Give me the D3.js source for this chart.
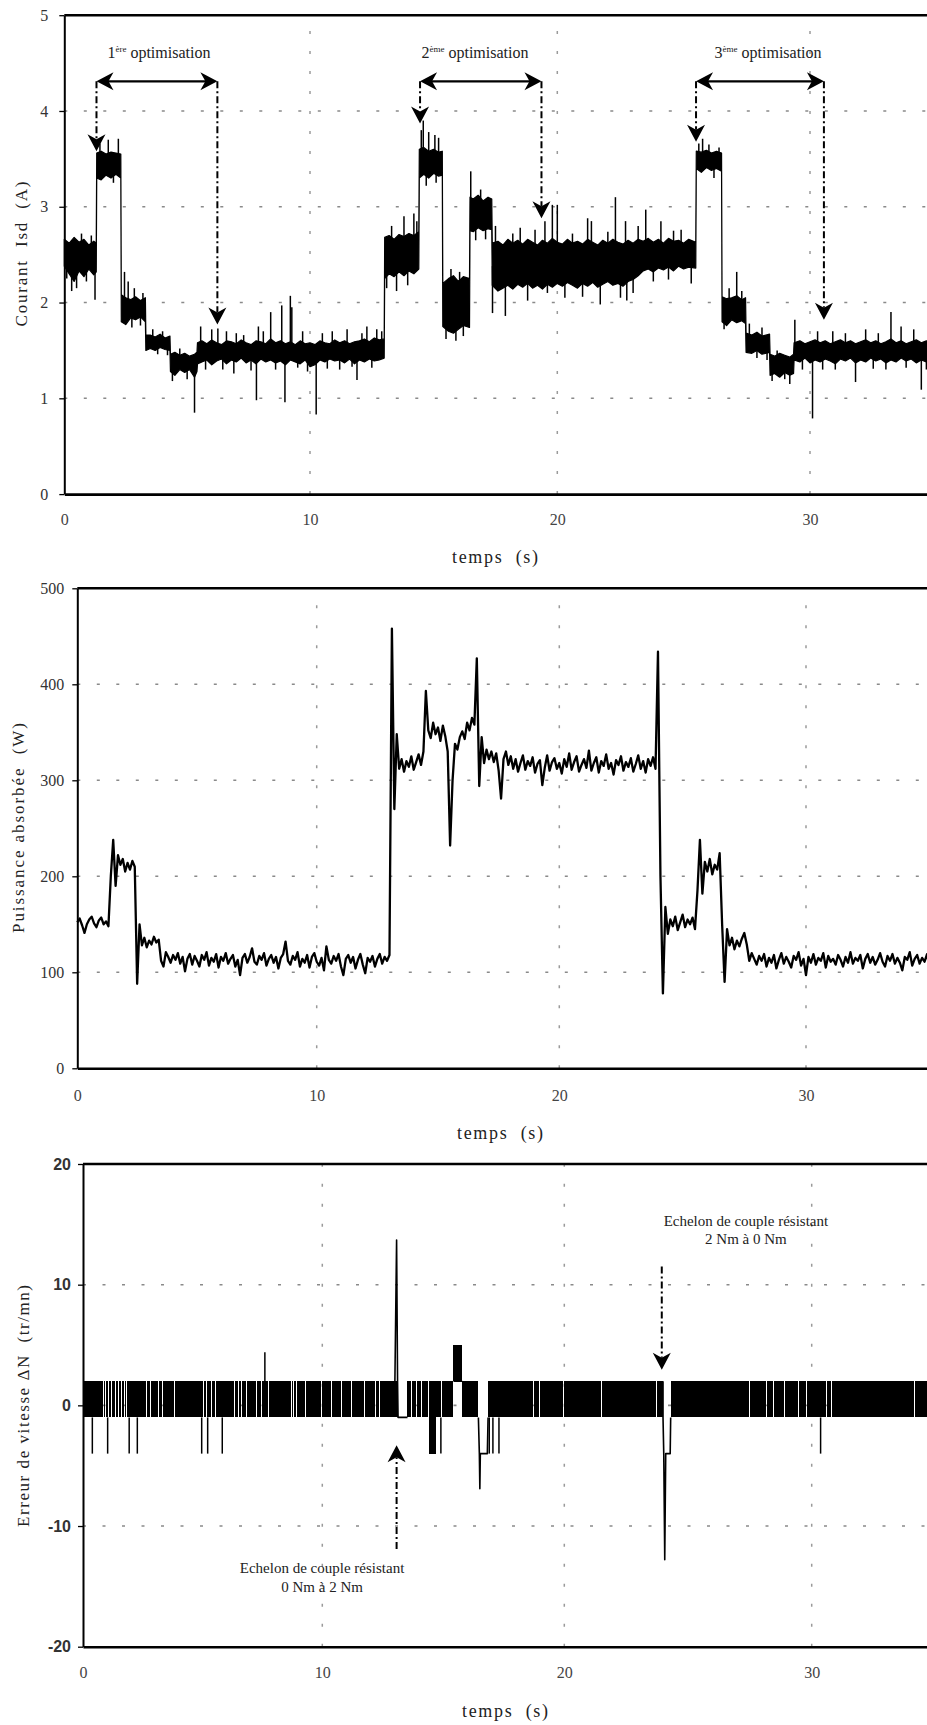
<!DOCTYPE html>
<html><head><meta charset="utf-8">
<script src="https://cdn.jsdelivr.net/npm/d3@7"></script>
<style>
html,body{margin:0;padding:0;background:#fff;overflow:hidden}
svg{display:block}
.serif{font-family:"Liberation Serif","Times New Roman",Times,serif}
.sans{font-family:"Liberation Sans",Arial,Helvetica,sans-serif}
</style></head><body>
<svg id="chart" width="927" height="1725"></svg>
<script>
// ---------------- DATA ----------------
const timeTicks = [0, 10, 20, 30];
const isdTicks = [0, 1, 2, 3, 4, 5];
const powerTicks = [0, 100, 200, 300, 400, 500];
const speedTicks = [-20, -10, 0, 10, 20];

// Courant Isd : envelope of the noisy trace [t (s), low (A), high (A)]
const isdEnvelope = [
 [0.0,2.38,2.66],[0.2,2.30,2.62],[0.4,2.22,2.68],[0.6,2.33,2.63],[0.8,2.27,2.66],[1.0,2.35,2.60],[1.2,2.29,2.64],[1.3,2.32,2.62],
 [1.32,3.30,3.56],[1.5,3.28,3.58],[1.7,3.33,3.55],[1.9,3.30,3.57],[2.1,3.34,3.56],[2.3,3.30,3.55],
 [2.32,1.80,2.08],[2.5,1.77,2.05],[2.7,1.84,2.03],[2.9,1.82,2.06],[3.1,1.85,2.02],[3.3,1.80,2.05],
 [3.32,1.50,1.66],[3.5,1.52,1.66],[3.7,1.50,1.64],[3.9,1.53,1.67],[4.1,1.51,1.63],[4.3,1.50,1.65],
 [4.32,1.28,1.46],[4.5,1.24,1.48],[4.7,1.30,1.45],[4.9,1.27,1.47],[5.1,1.30,1.44],[5.3,1.22,1.46],[5.4,1.28,1.48],
 [5.42,1.36,1.58],[5.6,1.38,1.60],[5.8,1.40,1.57],[6.0,1.35,1.61],[6.2,1.39,1.58],[6.4,1.41,1.56],[6.6,1.36,1.60],[6.8,1.40,1.59],
 [7.0,1.38,1.57],[7.2,1.42,1.61],[7.4,1.37,1.58],[7.6,1.40,1.56],[7.8,1.36,1.60],[8.0,1.41,1.59],[8.2,1.38,1.57],[8.4,1.40,1.62],
 [8.6,1.37,1.58],[8.8,1.39,1.60],[9.0,1.35,1.57],[9.2,1.40,1.59],[9.4,1.38,1.56],[9.6,1.36,1.60],[9.8,1.40,1.57],[10.0,1.33,1.58],
 [10.2,1.35,1.56],[10.4,1.40,1.60],[10.6,1.38,1.58],[10.8,1.41,1.57],[11.0,1.39,1.61],[11.2,1.40,1.58],[11.4,1.37,1.60],[11.6,1.41,1.57],
 [11.8,1.36,1.59],[12.0,1.40,1.60],[12.2,1.38,1.62],[12.4,1.41,1.59],[12.6,1.39,1.63],[12.8,1.40,1.61],[13.0,1.42,1.62],
 [13.02,2.25,2.68],[13.2,2.30,2.70],[13.4,2.27,2.66],[13.6,2.32,2.71],[13.8,2.28,2.69],[14.0,2.33,2.72],[14.2,2.30,2.70],[14.4,2.35,2.74],
 [14.42,3.30,3.60],[14.6,3.34,3.62],[14.8,3.30,3.58],[15.0,3.35,3.60],[15.2,3.32,3.57],[15.35,3.33,3.58],
 [15.37,1.75,2.20],[15.6,1.70,2.25],[15.8,1.68,2.28],[16.0,1.72,2.22],[16.2,1.76,2.27],[16.45,1.74,2.25],
 [16.47,2.75,3.10],[16.6,2.74,3.08],[16.8,2.78,3.12],[17.0,2.75,3.06],[17.2,2.77,3.10],[17.35,2.76,3.08],
 [17.37,2.18,2.62],[17.6,2.12,2.64],[17.8,2.15,2.60],[18.0,2.18,2.66],[18.2,2.14,2.62],[18.4,2.19,2.65],[18.6,2.16,2.61],[18.8,2.20,2.66],
 [19.0,2.15,2.63],[19.2,2.18,2.60],[19.4,2.14,2.65],[19.6,2.19,2.62],[19.8,2.16,2.67],[20.0,2.20,2.63],[20.2,2.17,2.61],[20.4,2.21,2.66],
 [20.6,2.18,2.62],[20.8,2.15,2.64],[21.0,2.20,2.61],[21.2,2.17,2.66],[21.4,2.21,2.63],[21.6,2.16,2.60],[21.8,2.19,2.65],[22.0,2.22,2.62],
 [22.2,2.18,2.66],[22.4,2.20,2.63],[22.6,2.17,2.61],[22.8,2.22,2.65],[23.0,2.24,2.62],[23.2,2.28,2.66],[23.4,2.33,2.64],[23.6,2.35,2.67],
 [23.8,2.32,2.63],[24.0,2.36,2.66],[24.2,2.34,2.62],[24.4,2.37,2.67],[24.6,2.33,2.64],[24.8,2.38,2.65],[25.0,2.35,2.62],[25.2,2.37,2.66],[25.48,2.36,2.63],
 [25.5,3.40,3.58],[25.7,3.36,3.57],[25.9,3.41,3.59],[26.1,3.38,3.56],[26.3,3.40,3.58],[26.5,3.37,3.56],
 [26.52,1.80,2.06],[26.7,1.76,2.04],[26.9,1.82,2.05],[27.1,1.79,2.07],[27.3,1.81,2.03],[27.45,1.78,2.05],
 [27.47,1.48,1.68],[27.7,1.47,1.66],[27.9,1.50,1.69],[28.1,1.46,1.65],[28.4,1.48,1.67],
 [28.42,1.24,1.46],[28.6,1.26,1.44],[28.8,1.22,1.47],[29.0,1.27,1.45],[29.2,1.24,1.43],[29.35,1.26,1.46],
 [29.37,1.40,1.58],[29.6,1.38,1.60],[29.8,1.42,1.57],[30.0,1.37,1.59],[30.2,1.40,1.61],[30.4,1.38,1.58],[30.6,1.41,1.60],[30.8,1.39,1.57],
 [31.0,1.36,1.59],[31.2,1.41,1.61],[31.4,1.39,1.58],[31.6,1.42,1.60],[31.8,1.37,1.57],[32.0,1.40,1.59],[32.2,1.38,1.61],[32.4,1.42,1.58],
 [32.6,1.39,1.60],[32.8,1.41,1.57],[33.0,1.37,1.59],[33.2,1.40,1.62],[33.4,1.38,1.58],[33.6,1.42,1.60],[33.8,1.39,1.57],[34.0,1.41,1.59],
 [34.2,1.37,1.61],[34.4,1.40,1.58],[34.6,1.38,1.60],[34.8,1.42,1.57],[35.0,1.39,1.59],[35.2,1.41,1.60],[35.5,1.38,1.58]
];
// Courant Isd : isolated spikes [t (s), value (A)]
const isdSpikes = [
 [0.1,2.25],[0.3,2.12],[0.5,2.15],[0.7,2.72],[0.9,2.22],[1.1,2.70],[1.25,2.03],
 [1.45,3.66],[1.79,3.70],[2.0,3.25],[2.2,3.71],
 [2.45,2.32],[2.6,2.22],[2.75,1.74],[2.85,2.15],[3.1,1.76],[3.2,2.10],
 [3.6,1.72],[3.8,1.46],[4.0,1.70],[4.2,1.45],
 [4.4,1.18],[4.7,1.52],[5.0,1.20],[5.3,0.85],
 [5.55,1.75],[5.75,1.30],[6.0,1.72],[6.25,1.73],[6.45,1.30],[6.6,1.70],[6.9,1.26],[7.0,1.68],[7.3,1.66],[7.6,1.29],[7.82,0.98],[7.9,1.75],
 [8.1,1.70],[8.4,1.90],[8.6,1.30],[8.85,1.97],[8.98,0.96],[9.2,2.07],[9.26,1.95],[9.5,1.32],[9.7,1.70],[9.9,1.28],[10.25,0.83],
 [10.5,1.68],[10.7,1.31],[10.9,1.70],[11.2,1.30],[11.5,1.72],[11.7,1.33],[11.9,1.19],[12.1,1.68],[12.3,1.75],[12.5,1.32],[12.7,1.72],[12.9,1.70],
 [13.1,2.15],[13.3,2.80],[13.5,2.12],[13.8,2.90],[13.95,2.18],[14.2,2.93],[14.32,2.85],
 [14.5,3.80],[14.58,3.90],[14.7,3.22],[14.8,3.78],[15.05,3.75],[15.1,3.25],[15.2,3.72],
 [15.5,1.62],[15.7,2.35],[15.9,1.60],[16.05,2.32],[16.2,1.65],
 [16.5,3.37],[16.7,2.65],[16.9,3.18],[17.1,2.66],
 [17.38,1.89],[17.5,2.80],[17.9,1.86],[18.2,2.72],[18.5,2.78],[18.8,2.02],[19.1,2.76],[19.5,2.85],[19.6,2.10],[19.8,3.02],[20.0,3.02],
 [20.3,2.05],[20.6,2.72],[21.0,2.06],[21.2,2.88],[21.35,2.85],[21.7,1.98],[22.0,2.74],[22.3,3.10],[22.5,2.05],[22.7,2.85],[22.75,2.02],
 [23.0,2.10],[23.2,2.80],[23.5,2.97],[23.8,2.22],[24.1,2.85],[24.4,2.24],[24.6,2.75],[24.9,2.76],[25.3,2.20],
 [25.6,3.66],[25.75,3.71],[26.0,3.65],[26.2,3.30],[26.4,3.62],
 [26.6,1.72],[26.8,2.15],[27.1,2.32],[27.3,2.12],
 [27.6,1.78],[27.9,1.42],[28.1,1.74],[28.3,1.40],
 [28.5,1.18],[28.7,1.50],[29.0,1.20],[29.2,1.15],
 [29.4,1.82],[29.7,1.30],[30.1,0.79],[30.3,1.70],[30.5,1.30],[30.9,1.70],[31.0,1.30],[31.4,1.68],[31.8,1.17],[32.2,1.72],[32.5,1.31],
 [32.7,1.68],[33.0,1.30],[33.2,1.90],[33.6,1.75],[33.8,1.32],[34.1,1.72],[34.4,1.09],[34.6,1.30],[34.8,1.77],[35.1,1.70]
];

// Puissance absorbée : sampled every powerStep seconds (W)
const powerStep = 0.1;
const powerValues = [
 // 0.0 - 1.3
 152,156,149,141,150,155,158,151,147,154,157,150,153,148,
 // 1.4 - 2.4
 200,238,190,222,212,218,205,214,207,216,210,
 // 2.5 - 3.4
 88,150,128,136,126,133,129,137,131,134,
 // 3.5 - 3.8
 112,106,121,116,
 // 3.9 - 13.0
 110,118,113,120,109,116,101,114,119,108,117,112,106,118,113,121,107,115,111,119,105,116,112,120,109,114,118,106,113,97,
 115,119,110,116,125,111,108,117,113,120,107,114,118,110,116,104,115,119,132,112,108,117,113,121,106,114,110,118,105,116,
 120,111,107,115,102,127,113,109,117,112,119,106,97,114,118,110,116,104,113,119,108,99,115,111,117,106,114,119,109,116,112,118,
 // 13.1 - 18.0
 458,270,348,312,322,309,320,314,325,311,319,327,316,330,393,352,344,360,348,355,341,357,346,330,232,300,338,332,345,351,
 343,360,352,365,358,427,294,345,318,332,322,330,319,328,310,281,322,330,316,325,
 // 18.1 - 23.9
 312,322,309,318,326,311,320,315,324,308,317,321,295,313,326,310,319,323,312,318,307,322,314,328,311,319,325,309,316,322,
 313,331,310,318,324,308,320,315,327,312,318,306,321,316,325,310,319,314,323,309,317,326,312,320,308,322,315,324,312,
 // 24.0 - 27.7
 434,200,78,168,140,155,148,158,144,152,160,147,155,150,157,145,185,238,182,215,205,218,202,212,207,224,150,90,145,128,
 136,124,133,127,135,141,129,112,
 // 27.8 - 35.5
 120,114,108,117,112,119,106,115,110,118,104,113,120,109,116,111,105,117,113,121,107,114,97,116,110,119,108,115,112,120,
 105,117,111,114,108,118,113,106,116,110,121,109,115,112,118,104,114,119,110,116,108,113,120,111,106,117,112,119,109,115,
 110,102,116,113,121,107,114,118,109,115,111,119,106,114,117,110,116,112
];

// Erreur de vitesse : the trace chatters between -1 and 2 tr/mn except in these intervals [t0, t1]
const speedBandLow = -1, speedBandHigh = 2, speedEnd = 35.6;
const speedGaps = [
 [0.83,0.87],[0.93,0.97],[1.04,1.08],[1.18,1.22],[1.32,1.36],[1.46,1.50],[1.60,1.64],[1.71,1.75],[1.81,1.85],[2.64,2.68],
 [2.82,2.86],[3.13,3.17],[3.29,3.33],[3.82,3.86],[4.87,4.91],[5.01,5.05],[5.15,5.19],[5.36,5.40],[5.50,5.54],[6.33,6.37],
 [6.47,6.51],[6.61,6.65],[6.82,6.86],[7.24,7.28],[7.45,7.49],[7.72,7.76],[8.70,8.74],[8.77,8.81],[8.91,8.95],[9.26,9.30],
 [9.95,9.99],[10.37,10.41],[10.78,10.82],[11.19,11.23],[11.74,11.78],[12.16,12.20],[12.36,12.40],[13.12,13.52],[13.67,13.71],
 [13.88,13.92],[14.08,14.12],[14.36,14.40],[14.91,14.95],[15.42,15.78],[16.45,16.85],[17.53,17.57],[18.70,18.74],[18.95,18.99],
 [19.94,19.98],[21.49,21.53],[23.71,23.75],[23.99,24.30],[27.48,27.52],[28.16,28.20],[28.43,28.47],[28.90,28.94],[29.44,29.48],
 [29.78,29.82],[30.59,30.63],[30.79,30.83],[34.15,34.19]
];
// chatter blocks outside the main band [t0, t1, low, high]
const speedBlocks = [[14.42,14.68,-4,-1],[15.42,15.78,2,5]];
// thin spikes [t, from, to]
const speedSpikes = [
 [0.39,-1,-4],[1.03,-1,-4],[1.93,-1,-4],[2.27,-1,-4],[4.96,-1,-4],[5.21,-1,-4],[5.82,-1,-4],[7.6,2,4.4],
 [14.9,-1,-4],[16.9,-1,-4],[17.05,-1,-4],[17.3,-1,-4],[30.36,-1,-4]
];
// transients drawn as polylines [t, value]
const speedTransients = [
 [[13.0,2],[13.07,13.7],[13.11,2],[13.13,-1],[13.52,-1]],
 [[15.42,2],[15.78,2]],
 [[16.45,-1],[16.49,-4],[16.51,-6.9],[16.53,-4],[16.82,-4],[16.85,-1]],
 [[23.99,2],[23.99,-1],[24.02,-4],[24.06,-12.8],[24.10,-4],[24.28,-4],[24.30,-1]]
];

// annotations
const optimNumbers = ["1", "2", "3"];
const optimSuffix = ["ère", "ème", "ème"];
const optimStart = [1.31, 14.45, 25.49];
const optimEnd = [6.23, 19.36, 30.55];
const optimStartTip = [3.58, 3.87, 3.68];
const optimEndTip = [1.77, 2.88, 1.82];
const optimLabelT = [3.85, 16.67, 28.34];
const optimArrowLevel = 4.31, optimLabelLevel = 4.55;

const echelonT = [13.07, 23.94];
const echelonFrom = [-11.9, 11.5];
const echelonTip = [-3.3, 2.96];
const echelonLabelT = [9.99, 27.34];
const echelonLabelV = [[-13.9, -15.5], [14.85, 13.35]];
const echelonLines = [["Echelon de couple résistant", "0 Nm à 2 Nm"], ["Echelon de couple résistant", "2 Nm à 0 Nm"]];

// ---------------- LAYOUT ----------------
const svg = d3.select('#chart');

const layout = {
  isd:   {xr:[64.3,310,557.3,810,1063], yd:[0,5],     yr:[494.1,15.2],  yTicks:isdTicks,  yPad:11, yClass:'serif', yWeight:'normal', ySize:16, xPad:20,
          title:"Courant  Isd  (A)", titleX:21, titleY:254, titleLen:145, xTitleX:495, xTitleY:557, hGrid:[1,2,3,4]},
  power: {xr:[77.3,316.7,559.3,806,1053], yd:[0,500], yr:[1068.3,588.3], yTicks:powerTicks, yPad:8, yClass:'serif', yWeight:'normal', ySize:16, xPad:21,
          title:"Puissance absorbée  (W)", titleX:18, titleY:828, titleLen:210, xTitleX:500, xTitleY:1133, hGrid:[100,200,300,400]},
  speed: {xr:[83,322.3,564.3,811.7,1059], yd:[-20,20], yr:[1646.7,1164.0], yTicks:speedTicks, yPad:7, yClass:'sans', yWeight:'bold', ySize:16, xPad:20,
          title:"Erreur de vitesse ΔN  (tr/mn)", titleX:23, titleY:1406, titleLen:242, xTitleX:505, xTitleY:1711, hGrid:[-10,0,10]}
};

function makeScales(c){
  const x = d3.scaleLinear().domain([0,10,20,30,40]).range(c.xr);
  const y = d3.scaleLinear().domain(c.yd).range(c.yr);
  return {x, y};
}

function drawGrid(c, s){
  const g = svg.append('g');
  g.selectAll('line.h').data(c.hGrid).join('line')
    .attr('x1', s.x(0)).attr('x2', s.x(40)).attr('y1', d=>s.y(d)).attr('y2', d=>s.y(d))
    .attr('stroke', '#8a8a8a').attr('stroke-width', 1.6).attr('stroke-dasharray', '3,16.5');
  g.selectAll('line.v').data(timeTicks.filter(d=>d>0)).join('line')
    .attr('x1', d=>s.x(d)).attr('x2', d=>s.x(d)).attr('y1', s.y(c.yd[0])).attr('y2', s.y(c.yd[1]))
    .attr('stroke', '#9a9a9a').attr('stroke-width', 1.5).attr('stroke-dasharray', '3,17');
}

function drawAxes(c, s){
  const gl = svg.append('g').attr('transform', `translate(${s.x(0)},0)`)
    .call(d3.axisLeft(s.y).tickValues(c.yTicks).tickSize(5).tickSizeOuter(0).tickPadding(c.yPad).tickFormat(d=>String(d)));
  gl.attr('font-family', null);
  gl.select('.domain').attr('stroke', '#000').attr('stroke-width', 2);
  gl.selectAll('.tick line').attr('stroke', '#000').attr('stroke-width', 1.3);
  gl.selectAll('.tick text').attr('class', c.yClass).attr('font-size', c.ySize).attr('font-weight', c.yWeight).attr('fill', '#333');

  const gb = svg.append('g').attr('transform', `translate(0,${s.y(c.yd[0])})`)
    .call(d3.axisBottom(s.x).tickValues(timeTicks).tickSize(0).tickSizeOuter(0).tickPadding(c.xPad).tickFormat(d=>String(d)));
  gb.attr('font-family', null);
  gb.select('.domain').attr('stroke', '#000').attr('stroke-width', 2.6);
  gb.selectAll('.tick text').attr('class', 'serif').attr('font-size', 16).attr('fill', '#444');

  svg.append('line').attr('x1', s.x(0)).attr('x2', s.x(40)).attr('y1', s.y(c.yd[1])).attr('y2', s.y(c.yd[1]))
    .attr('stroke', '#000').attr('stroke-width', 2.6);

  svg.append('text').attr('class', 'serif').attr('transform', `translate(${c.titleX},${c.titleY}) rotate(-90)`)
    .attr('text-anchor', 'middle').attr('dominant-baseline', 'central')
    .attr('font-size', 17).attr('fill', '#222')
    .attr('textLength', c.titleLen).attr('lengthAdjust', 'spacing')
    .style('white-space', 'pre').text(c.title);

  svg.append('text').attr('class', 'serif').attr('x', c.xTitleX).attr('y', c.xTitleY)
    .attr('text-anchor', 'middle').attr('dominant-baseline', 'central')
    .attr('font-size', 18).attr('fill', '#222')
    .attr('textLength', 86).attr('lengthAdjust', 'spacing')
    .style('white-space', 'pre').text('temps  (s)');
}

function arrowHead(g, px, py, angle){
  g.append('path').attr('d', 'M0,0 L-17,-9 L-12,0 L-17,9 Z')
    .attr('transform', `translate(${px},${py}) rotate(${angle})`).attr('fill', '#000');
}

// ---------------- PANEL 1 : Isd ----------------
{
  const c = layout.isd, s = makeScales(c);
  drawGrid(c, s);
  const g = svg.append('g');
  g.append('path').datum(isdEnvelope)
    .attr('d', d3.area().x(d=>s.x(d[0])).y0(d=>s.y(d[1])).y1(d=>s.y(d[2])))
    .attr('fill', '#000').attr('stroke', '#000').attr('stroke-width', 1.2).attr('stroke-linejoin', 'round');
  const bis = d3.bisector(d=>d[0]).left;
  g.selectAll('line.sp').data(isdSpikes).join('line')
    .attr('x1', d=>s.x(d[0])).attr('x2', d=>s.x(d[0]))
    .attr('y1', d=>s.y(d[1]))
    .attr('y2', d=>{ const e = isdEnvelope[Math.min(bis(isdEnvelope, d[0]), isdEnvelope.length-1)]; return s.y((e[1]+e[2])/2); })
    .attr('stroke', '#000').attr('stroke-width', 1.5);
  drawAxes(c, s);

  const a = svg.append('g');
  const yA = s.y(optimArrowLevel);
  optimNumbers.forEach((n, i) => {
    const x0 = s.x(optimStart[i]), x1 = s.x(optimEnd[i]);
    a.append('line').attr('x1', x0+10).attr('x2', x1-10).attr('y1', yA).attr('y2', yA).attr('stroke', '#000').attr('stroke-width', 2.2);
    arrowHead(a, x0, yA, 180);
    arrowHead(a, x1, yA, 0);
    [[x0, optimStartTip[i]], [x1, optimEndTip[i]]].forEach(([xx, tip]) => {
      a.append('line').attr('x1', xx).attr('x2', xx).attr('y1', yA).attr('y2', s.y(tip)-12)
        .attr('stroke', '#000').attr('stroke-width', 2).attr('stroke-dasharray', '7,3,2,3');
      arrowHead(a, xx, s.y(tip), 90);
    });
    const t = a.append('text').attr('class', 'serif').attr('x', s.x(optimLabelT[i])).attr('y', s.y(optimLabelLevel))
      .attr('text-anchor', 'middle').attr('font-size', 16).attr('fill', '#222');
    t.append('tspan').text(n);
    t.append('tspan').attr('dy', -6).attr('font-size', 9).text(optimSuffix[i]);
    t.append('tspan').attr('dy', 6).text(' optimisation');
  });
}

// ---------------- PANEL 2 : Puissance ----------------
{
  const c = layout.power, s = makeScales(c);
  drawGrid(c, s);
  svg.append('path').datum(powerValues)
    .attr('d', d3.line().x((d,i)=>s.x(i*powerStep)).y(d=>s.y(d)))
    .attr('fill', 'none').attr('stroke', '#000').attr('stroke-width', 2.3).attr('stroke-linejoin', 'round');
  drawAxes(c, s);
}

// ---------------- PANEL 3 : Erreur de vitesse ----------------
{
  const c = layout.speed, s = makeScales(c);
  drawGrid(c, s);
  const g = svg.append('g');
  const chatter = [];
  let t0 = 0;
  speedGaps.forEach(([a, b]) => { chatter.push([t0, a, speedBandLow, speedBandHigh]); t0 = b; });
  chatter.push([t0, speedEnd, speedBandLow, speedBandHigh]);
  g.selectAll('rect.band').data(chatter.concat(speedBlocks)).join('rect')
    .attr('x', d=>s.x(d[0])).attr('width', d=>Math.max(0, s.x(d[1])-s.x(d[0])))
    .attr('y', d=>s.y(d[3])).attr('height', d=>s.y(d[2])-s.y(d[3]))
    .attr('fill', '#000').attr('shape-rendering', 'crispEdges');
  g.selectAll('line.sp').data(speedSpikes).join('line')
    .attr('x1', d=>s.x(d[0])).attr('x2', d=>s.x(d[0])).attr('y1', d=>s.y(d[1])).attr('y2', d=>s.y(d[2]))
    .attr('stroke', '#000').attr('stroke-width', 1.5);
  g.selectAll('path.tr').data(speedTransients).join('path')
    .attr('d', d3.line().x(d=>s.x(d[0])).y(d=>s.y(d[1])))
    .attr('fill', 'none').attr('stroke', '#000').attr('stroke-width', 1.6).attr('stroke-linejoin', 'round');
  drawAxes(c, s);

  const a = svg.append('g');
  echelonT.forEach((t, i) => {
    const xx = s.x(t), yTip = s.y(echelonTip[i]), yFrom = s.y(echelonFrom[i]);
    const dir = yFrom > yTip ? -1 : 1;
    a.append('line').attr('x1', xx).attr('x2', xx).attr('y1', yFrom).attr('y2', yTip - dir*12)
      .attr('stroke', '#000').attr('stroke-width', 2).attr('stroke-dasharray', '7,3,2,3');
    arrowHead(a, xx, yTip, dir < 0 ? -90 : 90);
    echelonLines[i].forEach((txt, k) => {
      a.append('text').attr('class', 'serif').attr('x', s.x(echelonLabelT[i])).attr('y', s.y(echelonLabelV[i][k]))
        .attr('text-anchor', 'middle').attr('font-size', 15).attr('fill', '#222')
        .text(txt);
    });
  });
}
</script></body></html>
